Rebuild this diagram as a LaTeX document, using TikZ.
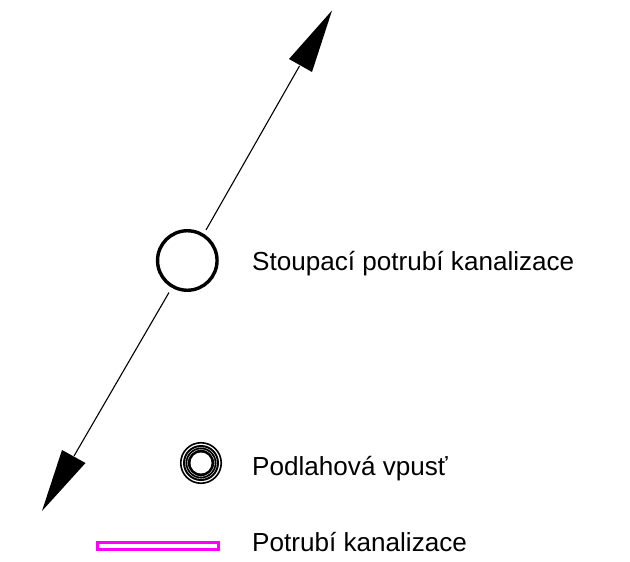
\documentclass[tikz,border=0pt]{standalone}
\usepackage{fontspec}
\setmainfont{Liberation Sans}
\definecolor{pipe}{RGB}{255,0,255}
\tikzset{
  px/.style={x=1pt,y=-1pt},
  lbl/.style={anchor=base west,inner sep=0pt,font=\fontsize{26.1}{30}\selectfont},
  leader/.style={draw=black,line width=1.1pt},
  tip/.style={fill=black,draw=none},
  ring/.style={circle,inner sep=0pt}
}
\begin{document}
\begin{tikzpicture}[px]
\useasboundingbox (0,0) rectangle (630,562);
\node[circle,draw=black,line width=3.4pt,minimum size=59.5pt,inner sep=0pt] (riser) at (187.3,260.5) {};
\coordinate (topend) at (332,10.5);
\coordinate (botend) at (42,511);
\coordinate (topbase) at (299.5,66);
\coordinate (botbase) at (74,456);
\coordinate (toproot) at (206,230);
\coordinate (botroot) at (169,292.5);
\fill[tip] (topend) -- (289,59) -- (312,72) -- cycle;
\fill[tip] (botend) -- (62,450) -- (85.5,463) -- cycle;
\draw[leader] (toproot) -- (topbase);
\draw[leader] (botroot) -- (botbase);
\node[ring,draw=black,line width=1.6pt,minimum size=40.5pt] (drainouter) at (201,463) {};
\node[ring,fill=black,minimum size=36pt] (drain) at (201,463) {};
\node[ring,draw=white,line width=0.35pt,minimum size=31.5pt] (drainr1) at (201,463) {};
\node[ring,draw=white,line width=0.35pt,minimum size=27pt] (drainr2) at (201,463) {};
\node[ring,fill=white,minimum size=21pt] (drainh) at (201,463) {};
\node[rectangle,draw=pipe,line width=2.8pt,minimum width=121pt,minimum height=7pt,inner sep=0pt] (pipebar) at (158,546) {};
\node[lbl] (a) at (252,270.5) {Stoupací potrubí kanalizace};
\node[lbl] (b) at (252,475) {Podlahová vpusť};
\node[lbl] (c) at (252,551) {Potrubí kanalizace};
\end{tikzpicture}
\end{document}
